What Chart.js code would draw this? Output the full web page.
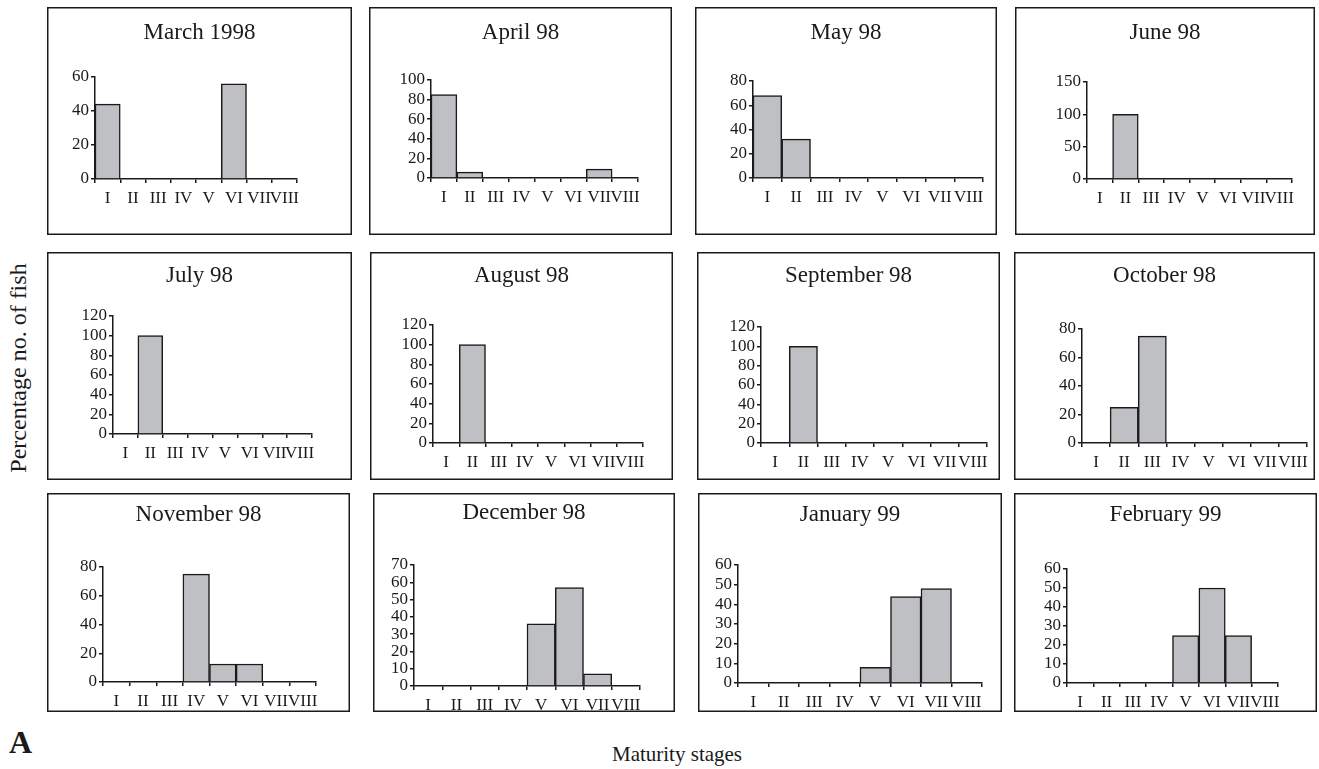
<!DOCTYPE html>
<html>
<head>
<meta charset="utf-8">
<script src="https://cdn.jsdelivr.net/npm/chart.js@4.4.0/dist/chart.umd.min.js"></script>
<style>
  body { margin: 0; background: #fff; width: 1319px; height: 769px; position: relative; overflow: hidden; font-family: "Liberation Serif", serif; color: #1a1a1a; }
  canvas { position: absolute; }
  .lbl { position: absolute; white-space: nowrap; }
  #ylab { left: 18px; top: 368px; font-size: 24px; transform: translate(-50%, -50%) rotate(-90deg); }
  #xlab { left: 677px; top: 754px; font-size: 21px; transform: translate(-50%, -50%); }
  #panelA { left: 9px; top: 724px; font-size: 32px; font-weight: bold; }
</style>
</head>
<body>
<div class="lbl" id="ylab">Percentage no. of fish</div>
<div class="lbl" id="xlab">Maturity stages</div>
<div class="lbl" id="panelA">A</div>

<script>
// Maturity stages (x categories)
const stages = ['I', 'II', 'III', 'IV', 'V', 'VI', 'VII', 'VIII'];

// Panel titles
const monthTitles = ['March 1998', 'April 98', 'May 98', 'June 98',
  'July 98', 'August 98', 'September 98', 'October 98',
  'November 98', 'December 98', 'January 99', 'February 99'];

// Percentage of fish per stage
const march98 = [44, 0, 0, 0, 0, 56, 0, 0];
const april98 = [85, 6, 0, 0, 0, 0, 9, 0];
const may98 = [68, 32, 0, 0, 0, 0, 0, 0];
const june98 = [0, 100, 0, 0, 0, 0, 0, 0];
const july98 = [0, 100, 0, 0, 0, 0, 0, 0];
const august98 = [0, 100, 0, 0, 0, 0, 0, 0];
const september98 = [0, 100, 0, 0, 0, 0, 0, 0];
const october98 = [0, 25, 75, 0, 0, 0, 0, 0];
const november98 = [0, 0, 0, 75, 12.5, 12.5, 0, 0];
const december98 = [0, 0, 0, 0, 36, 57, 7, 0];
const january99 = [0, 0, 0, 0, 8, 44, 48, 0];
const february99 = [0, 0, 0, 0, 25, 50, 25, 0];

const monthValues = [march98, april98, may98, june98, july98, august98,
  september98, october98, november98, december98, january99, february99];

// y-axis tick range of each panel
const yMax = [60, 100, 80, 150, 120, 120, 120, 80, 80, 70, 60, 60];
const yStep = [20, 20, 20, 50, 20, 20, 20, 20, 20, 10, 10, 10];

// Panel layout: [left, top, right, bottom, axisX, plotTop, zeroY, xEnd, titleY]
const panelBoxes = [
  [47, 7, 352, 235, 95, 77, 179, 297, 33],
  [369, 7, 672, 235, 431, 80, 178, 638, 33],
  [695, 7, 997, 235, 753, 81, 178, 983, 33],
  [1015, 7, 1315, 235, 1087, 82, 179, 1292, 33],
  [47, 252, 352, 480, 113, 316, 434, 312, 276],
  [370, 252, 673, 480, 433, 325, 443, 643, 276],
  [697, 252, 1000, 480, 761, 327, 443, 987, 276],
  [1014, 252, 1315, 480, 1082, 329, 443, 1307, 276],
  [47, 493, 350, 712, 103, 567, 682, 316, 515],
  [373, 493, 675, 712, 414, 565, 686, 640, 513],
  [698, 493, 1002, 712, 738, 565, 683, 982, 515],
  [1014, 493, 1317, 712, 1067, 569, 683, 1278, 515]
];

const ink = '#1a1a1a';
const tickFont = { family: 'Liberation Serif', size: 17 };
const xAxisHeight = 34;

// Draws the panel frame and the month title
const panelFrame = {
  id: 'panelFrame',
  afterDraw(chart, args, opts) {
    const ctx = chart.ctx;
    const w = chart.width, h = chart.height;
    ctx.save();
    ctx.strokeStyle = ink;
    ctx.lineWidth = 1.5;
    ctx.strokeRect(0.75, 0.75, w - 1.5, h - 1.5);
    ctx.fillStyle = ink;
    ctx.font = '23px "Liberation Serif"';
    ctx.textAlign = 'center';
    ctx.textBaseline = 'middle';
    ctx.fillText(opts.text, w / 2, opts.y);
    ctx.restore();
  }
};

function makePanel(i) {
  const [left, top, right, bottom, axisX, plotTop, zeroY, xEnd, titleY] = panelBoxes[i];
  const w = right - left, h = bottom - top;

  const canvas = document.createElement('canvas');
  canvas.width = w;
  canvas.height = h;
  canvas.style.left = left + 'px';
  canvas.style.top = top + 'px';
  canvas.style.width = w + 'px';
  canvas.style.height = h + 'px';
  document.body.appendChild(canvas);

  new Chart(canvas.getContext('2d'), {
    type: 'bar',
    data: {
      labels: stages,
      datasets: [{
        data: monthValues[i],
        backgroundColor: '#bfc0c4',
        borderColor: ink,
        borderWidth: 1.5,
        borderSkipped: 'bottom',
        barPercentage: 1,
        categoryPercentage: 1
      }]
    },
    options: {
      responsive: false,
      animation: false,
      layout: {
        padding: {
          left: 0,
          top: plotTop - top,
          right: right - xEnd,
          bottom: bottom - zeroY - xAxisHeight
        }
      },
      plugins: {
        legend: { display: false },
        tooltip: { enabled: false },
        title: { display: false },
        panelFrame: { text: monthTitles[i], y: titleY - top }
      },
      scales: {
        x: {
          offset: true,
          afterFit: (scale) => { scale.height = xAxisHeight; },
          grid: {
            offset: true,
            drawOnChartArea: false,
            drawTicks: true,
            tickLength: 4,
            color: ink,
            lineWidth: 1.5
          },
          border: { display: true, color: ink, width: 1.5 },
          ticks: { color: ink, font: tickFont, padding: 5, maxRotation: 0, autoSkip: false }
        },
        y: {
          min: 0,
          max: yMax[i],
          afterFit: (scale) => { scale.width = axisX - left; },
          grid: {
            drawOnChartArea: false,
            drawTicks: true,
            tickLength: 4,
            color: ink,
            lineWidth: 1.5
          },
          border: { display: true, color: ink, width: 1.5 },
          ticks: { stepSize: yStep[i], autoSkip: false, color: ink, font: tickFont, padding: 2 }
        }
      }
    },
    plugins: [panelFrame]
  });
}

for (let i = 0; i < monthValues.length; i++) {
  makePanel(i);
}
</script>
</body>
</html>
